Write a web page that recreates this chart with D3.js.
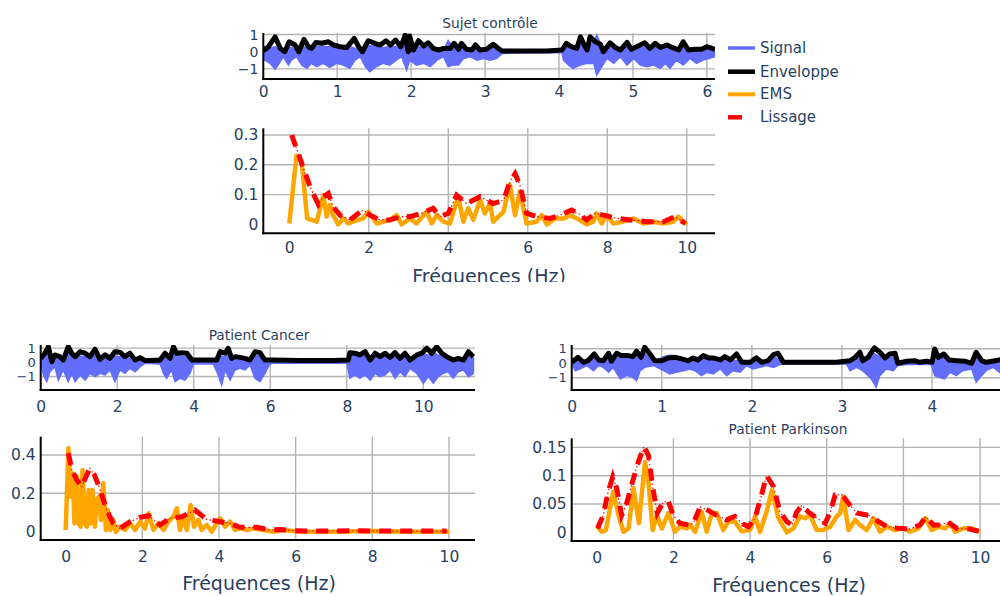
<!DOCTYPE html>
<html><head><meta charset="utf-8">
<script src="https://cdn.jsdelivr.net/npm/d3@7"></script>
<style>body{margin:0;background:#fff}svg{display:block;font-family:"DejaVu Sans",Verdana,sans-serif}</style>
</head><body><svg id="c" width="1000" height="596"></svg>
<script>
// ---------------- DATA ----------------
const seriesNames = ["Signal", "Enveloppe", "EMS", "Lissage"];
const panelTitles = ["Sujet contrôle", "Patient Cancer", "Patient Parkinson"];
const freqTitle = "Fréquences (Hz)";

// Sujet contrôle : signal band [t, low, high], envelope [t, v]
const ctrlSignal = [[0,0,0.1],[0.02,-0.49,0.3],[0.09,-0.68,0.2],[0.16,-1.03,0.3],[0.2,-0.78,0.15],[0.27,-0.29,0.05],[0.34,-0.78,0.3],[0.38,-0.49,0.25],[0.45,-0.29,0.1],[0.52,-0.78,0.3],[0.59,-0.97,0.25],[0.65,-0.68,0.15],[0.72,-0.87,0.3],[0.81,-0.68,0.3],[0.9,-0.91,0.3],[0.99,-0.68,0.2],[1.08,-0.78,0.2],[1.17,-0.97,0.3],[1.24,-0.49,0.2],[1.31,-0.29,0.05],[1.38,-0.87,0.3],[1.44,-1.17,0.35],[1.53,-0.87,0.3],[1.62,-0.68,0.25],[1.71,-0.78,0.3],[1.8,-0.49,0.3],[1.87,-0.29,0.2],[1.94,-1.07,0.5],[1.98,-0.49,0.4],[2.07,-0.78,0.3],[2.17,-0.68,0.25],[2.26,-0.87,0.25],[2.35,-0.49,0.1],[2.44,-0.29,0.1],[2.5,-0.87,0.65],[2.57,-0.78,0.2],[2.64,-0.78,0.1],[2.71,-0.39,0.25],[2.8,-0.29,0.05],[2.89,-0.49,0.2],[2.98,-0.39,0.1],[3.07,-0.49,0.2],[3.16,-0.39,0.25],[3.23,-0.1,0.03],[3.61,-0.06,0.03],[4.04,-0.06,0.03],[4.06,-0.49,0.2],[4.13,-0.78,0.3],[4.19,-0.97,0.2],[4.29,-0.78,0.4],[4.38,-0.68,0.2],[4.47,-0.68,0.6],[4.51,-1.36,0.97],[4.58,-0.87,0.3],[4.65,-0.39,0.2],[4.74,-0.68,0.3],[4.83,-0.29,0.05],[4.92,-0.78,0.3],[5.01,-0.39,0.1],[5.1,-0.78,0.25],[5.19,-0.87,0.3],[5.28,-0.78,0.3],[5.37,-0.97,0.2],[5.44,-0.68,0.35],[5.5,-0.97,0.2],[5.59,-0.49,0.1],[5.68,-0.78,0.35],[5.77,-0.39,0.05],[5.86,-0.68,0.1],[5.95,-0.49,0.1],[6.04,-0.39,0.2],[6.11,-0.29,0.1]];
const ctrlEnvelope = [[0,0.06],[0.07,0.29],[0.16,0.87],[0.23,0.19],[0.29,0.0],[0.35,0.58],[0.43,0.39],[0.48,0.0],[0.55,0.72],[0.61,0.29],[0.65,0.19],[0.71,0.54],[0.79,0.49],[0.88,0.58],[0.95,0.39],[1.04,0.29],[1.13,0.25],[1.23,0.78],[1.29,0.29],[1.34,0.0],[1.42,0.64],[1.51,0.49],[1.58,0.39],[1.66,0.64],[1.72,0.39],[1.79,0.68],[1.86,0.29],[1.92,0.97],[1.96,0.0],[1.98,0.91],[2.03,0.1],[2.1,0.64],[2.17,0.33],[2.23,0.52],[2.3,0.19],[2.37,0.1],[2.44,0.19],[2.53,0.19],[2.58,0.49],[2.64,0.14],[2.68,0.49],[2.75,0.14],[2.82,0.1],[2.87,0.39],[2.93,0.1],[3.02,0.14],[3.11,0.43],[3.18,0.19],[3.23,0.04],[3.38,0.04],[3.61,0.04],[3.83,0.04],[4.04,0.1],[4.1,0.49],[4.17,0.29],[4.24,0.19],[4.29,0.87],[4.34,0.39],[4.38,0.1],[4.42,0.87],[4.49,0.58],[4.56,0.43],[4.6,0.0],[4.69,0.52],[4.76,0.25],[4.83,0.1],[4.92,0.54],[4.98,0.14],[5.07,0.33],[5.16,0.52],[5.23,0.19],[5.3,0.49],[5.37,0.25],[5.46,0.39],[5.53,0.25],[5.62,0.1],[5.68,0.58],[5.75,0.1],[5.84,0.14],[5.93,0.14],[6.0,0.29],[6.11,0.14]];
const ctrlEMS = [[0,0.003],[0.18,0.23],[0.31,0.21],[0.45,0.02],[0.69,0.009],[0.86,0.098],[0.94,0.026],[1.02,0.065],[1.1,0.031],[1.23,0.0],[1.36,0.02],[1.48,0.003],[1.6,0.009],[1.86,0.02],[1.99,0.043],[2.2,0.003],[2.53,0.015],[2.7,0.031],[2.83,0.0],[3.04,0.02],[3.2,0.003],[3.46,0.043],[3.58,0.003],[3.71,0.031],[3.88,0.009],[4.04,0.003],[4.25,0.093],[4.38,0.009],[4.5,0.054],[4.63,0.015],[4.8,0.082],[4.92,0.037],[5.05,0.07],[5.13,0.009],[5.26,0.026],[5.39,0.043],[5.55,0.133],[5.68,0.031],[5.8,0.11],[5.97,0.003],[6.22,0.009],[6.35,0.031],[6.48,0.0],[6.69,0.02],[6.9,0.02],[7.06,0.031],[7.23,0.02],[7.48,0.0],[7.65,0.009],[7.73,0.037],[7.86,0.003],[7.99,0.031],[8.15,0.003],[8.4,0.009],[8.66,0.02],[8.91,0.003],[9.16,0.009],[9.41,0.003],[9.66,0.009],[9.79,0.026],[10,0.0]];
const ctrlSmooth = [[0.06,0.3],[0.18,0.255],[0.35,0.19],[0.52,0.127],[0.73,0.067],[0.86,0.093],[0.98,0.104],[1.1,0.06],[1.28,0.03],[1.53,0.015],[1.74,0.037],[1.86,0.048],[2.03,0.031],[2.28,0.015],[2.53,0.015],[2.79,0.026],[3.04,0.026],[3.33,0.037],[3.62,0.054],[3.79,0.026],[4.0,0.037],[4.21,0.098],[4.46,0.07],[4.8,0.093],[5.13,0.07],[5.39,0.081],[5.55,0.143],[5.68,0.17],[5.8,0.132],[5.97,0.037],[6.22,0.026],[6.56,0.02],[6.81,0.031],[7.1,0.048],[7.27,0.037],[7.48,0.015],[7.69,0.037],[7.9,0.031],[8.24,0.02],[8.57,0.015],[9.0,0.009],[9.41,0.009],[9.7,0.026],[9.96,0.003]];

// Patient Cancer
const cancerSignal = [[0,-0.07,0.1],[0.07,-0.89,0.4],[0.16,-1.36,0.6],[0.24,-0.66,0.25],[0.37,-0.31,0.5],[0.46,-1.25,0.4],[0.59,-0.54,0.15],[0.72,-1.36,0.7],[0.81,-0.78,0.45],[0.9,-1.36,0.35],[1.03,-0.89,0.45],[1.16,-1.25,0.4],[1.29,-0.78,0.3],[1.42,-1.01,0.5],[1.55,-0.78,0.2],[1.68,-0.89,0.35],[1.81,-0.54,0.2],[1.94,-1.36,0.45],[2.07,-0.54,0.4],[2.2,-0.78,0.25],[2.33,-0.42,0.3],[2.47,-0.66,0.1],[2.6,-0.31,0.15],[2.73,-0.07,0.05],[3.12,-0.12,0.08],[3.21,-0.78,0.3],[3.29,-1.13,0.4],[3.42,-0.54,0.25],[3.51,-1.36,0.7],[3.64,-1.13,0.45],[3.77,-1.25,0.4],[3.9,-0.78,0.2],[3.99,-0.12,0.05],[4.51,-0.12,0.05],[4.64,-0.89,0.5],[4.73,-1.6,0.45],[4.82,-0.54,0.4],[4.95,-1.25,0.6],[5.08,-0.54,0.25],[5.21,-0.42,0.2],[5.34,-0.54,0.15],[5.47,-0.19,0.08],[5.6,-1.13,0.5],[5.73,-1.36,0.45],[5.86,-0.78,0.15],[5.99,-0.12,0.05],[6.1,-0.05,0.03],[8.0,-0.07,0.05],[8.08,-1.13,0.5],[8.21,-0.89,0.45],[8.34,-1.13,0.35],[8.48,-0.89,0.5],[8.61,-1.25,0.15],[8.74,-0.78,0.45],[8.87,-1.01,0.3],[9.0,-0.89,0.45],[9.13,-0.54,0.25],[9.26,-1.13,0.45],[9.39,-0.66,0.2],[9.52,-1.01,0.45],[9.65,-0.42,0.15],[9.83,-0.78,0.35],[10.0,-1.48,0.6],[10.13,-1.01,0.5],[10.26,-1.48,0.7],[10.39,-1.01,0.5],[10.52,-0.78,0.4],[10.65,-0.66,0.3],[10.78,-1.13,0.15],[10.91,-0.66,0.2],[11.05,-0.54,0.15],[11.18,-1.01,0.45],[11.31,-0.78,0.3]];
const cancerEnvelope = [[0,0.28],[0.11,0.64],[0.2,1.1],[0.29,0.05],[0.37,0.52],[0.5,0.4],[0.59,0.16],[0.72,1.1],[0.81,0.64],[0.9,0.4],[1.03,0.75],[1.16,0.64],[1.29,0.4],[1.42,0.92],[1.55,0.21],[1.68,0.52],[1.81,0.28],[1.94,0.75],[2.07,0.71],[2.2,0.4],[2.33,0.64],[2.47,0.16],[2.6,0.33],[2.73,0.12],[2.86,0.12],[3.12,0.16],[3.25,0.64],[3.38,0.28],[3.47,1.1],[3.55,0.64],[3.68,0.68],[3.82,0.64],[3.95,0.16],[4.16,0.16],[4.6,0.16],[4.69,0.75],[4.82,0.64],[4.9,0.99],[4.99,0.28],[5.08,0.4],[5.21,0.35],[5.34,0.28],[5.47,0.16],[5.6,0.75],[5.73,0.68],[5.86,0.16],[6.08,0.16],[6.78,0.12],[7.65,0.12],[8.04,0.16],[8.08,0.68],[8.21,0.64],[8.34,0.52],[8.48,0.75],[8.61,0.16],[8.74,0.64],[8.87,0.4],[9.0,0.64],[9.13,0.35],[9.26,0.68],[9.39,0.28],[9.52,0.64],[9.65,0.16],[9.83,0.52],[9.96,0.64],[10.09,0.99],[10.22,0.64],[10.35,1.1],[10.48,0.64],[10.61,0.4],[10.78,0.16],[10.91,0.28],[11.05,0.16],[11.18,0.75],[11.31,0.4]];
const cancerEMS = [[0,0.009],[0.07,0.435],[0.13,0.183],[0.18,0.304],[0.23,0.043],[0.29,0.287],[0.34,0.043],[0.39,0.026],[0.44,0.322],[0.5,0.043],[0.55,0.026],[0.6,0.217],[0.65,0.043],[0.7,0.217],[0.76,0.026],[0.81,0.165],[0.87,0.183],[0.92,0.061],[0.98,0.252],[1.05,0.009],[1.1,0.113],[1.17,0.009],[1.24,0.061],[1.31,0.0],[1.42,0.026],[1.55,0.009],[1.68,0.043],[1.81,0.009],[1.94,0.052],[2.07,0.017],[2.16,0.096],[2.29,0.009],[2.42,0.043],[2.55,0.009],[2.68,0.052],[2.81,0.078],[2.9,0.122],[2.98,0.009],[3.07,0.078],[3.16,0.009],[3.26,0.139],[3.35,0.026],[3.46,0.061],[3.55,0.009],[3.68,0.035],[3.81,0.0],[3.94,0.043],[4.03,0.07],[4.16,0.026],[4.29,0.052],[4.42,0.009],[4.55,0.017],[4.72,0.009],[4.9,0.017],[5.16,0.009],[5.42,0.0],[5.68,0.009],[6.11,0.0],[6.98,0.0],[8.0,0.003],[9.0,0.0],[10,0.0]];
const cancerSmooth = [[0.07,0.409],[0.16,0.322],[0.29,0.27],[0.42,0.235],[0.53,0.287],[0.63,0.33],[0.75,0.296],[0.9,0.217],[1.07,0.113],[1.24,0.043],[1.42,0.017],[1.68,0.052],[1.94,0.075],[2.16,0.083],[2.46,0.035],[2.72,0.07],[3.03,0.078],[3.37,0.113],[3.68,0.064],[4.03,0.052],[4.29,0.043],[4.55,0.023],[4.98,0.023],[5.33,0.009],[5.59,0.012],[5.94,0.005],[6.55,0.003],[7.42,0.005],[8.72,0.003],[9.94,0.003]];

// Patient Parkinson
const parkSignal = [[0,-0.05,0.05],[0.04,-0.51,0.3],[0.09,-0.39,0.3],[0.17,-0.16,0.1],[0.24,-0.51,0.35],[0.3,-0.16,0.15],[0.35,-0.28,0.1],[0.41,-0.62,0.4],[0.46,-0.28,0.2],[0.54,-1.08,0.45],[0.61,-0.85,0.35],[0.68,-0.97,0.3],[0.72,-1.2,0.55],[0.76,-0.51,0.25],[0.81,-0.28,0.7],[0.91,-0.16,0.1],[1.02,-0.51,0.45],[1.09,-0.74,0.55],[1.16,-0.62,0.5],[1.24,-0.51,0.35],[1.31,-0.39,0.15],[1.37,-0.51,0.25],[1.44,-0.85,0.4],[1.5,-0.62,0.3],[1.57,-0.74,0.3],[1.65,-0.39,0.15],[1.72,-0.85,0.35],[1.79,-0.51,0.2],[1.87,-0.62,0.2],[1.94,-0.16,0.03],[2.01,-0.39,0.25],[2.09,-0.28,0.05],[2.16,-0.16,0.1],[2.24,-0.28,0.45],[2.31,-0.09,0.25],[2.38,-0.05,0.03],[3.05,-0.05,0.03],[3.09,-0.51,0.3],[3.16,-0.28,0.3],[3.23,-0.51,0.45],[3.31,-0.97,0.35],[3.35,-1.31,0.7],[3.38,-1.66,0.6],[3.42,-0.85,0.45],[3.49,-0.39,0.3],[3.57,-0.51,0.45],[3.62,-0.16,0.03],[3.72,-0.09,0.08],[3.99,-0.09,0.03],[4.03,-0.85,0.7],[4.08,-0.97,0.35],[4.14,-1.08,0.45],[4.2,-0.62,0.15],[4.27,-0.85,0.15],[4.34,-0.51,0.1],[4.44,-0.39,0.05],[4.49,-1.31,0.55],[4.55,-0.85,0.1],[4.6,-0.51,0.05],[4.68,-0.28,0.1],[4.75,-0.62,0.15],[4.82,-0.4,0.1]];
const parkEnvelope = [[0,0.07],[0.07,0.41],[0.13,0.07],[0.18,0.18],[0.25,0.64],[0.3,0.23],[0.35,0.18],[0.41,0.69],[0.44,0.14],[0.5,0.69],[0.55,0.53],[0.63,0.53],[0.68,0.46],[0.72,0.83],[0.77,0.41],[0.81,1.1],[0.87,0.64],[0.92,0.18],[1.0,0.18],[1.07,0.37],[1.15,0.41],[1.22,0.3],[1.29,0.18],[1.35,0.37],[1.4,0.23],[1.46,0.53],[1.52,0.37],[1.57,0.37],[1.65,0.23],[1.7,0.46],[1.76,0.23],[1.83,0.64],[1.89,0.07],[1.98,0.07],[2.05,0.37],[2.11,0.07],[2.18,0.18],[2.24,0.6],[2.29,0.69],[2.35,0.07],[2.57,0.07],[2.94,0.07],[3.09,0.18],[3.14,0.37],[3.2,0.76],[3.23,0.18],[3.29,0.41],[3.36,1.06],[3.42,0.76],[3.48,0.37],[3.53,0.64],[3.59,0.69],[3.62,0.0],[3.72,0.14],[3.81,0.18],[3.86,0.07],[3.94,0.14],[4.0,0.07],[4.03,0.99],[4.07,0.41],[4.13,0.64],[4.19,0.23],[4.28,0.18],[4.37,0.14],[4.44,0.0],[4.49,0.76],[4.55,0.18],[4.6,0.07],[4.7,0.18],[4.76,0.25],[4.82,0.2]];
const parkEMS = [[0.02,0.01],[0.13,0.001],[0.24,0.004],[0.43,0.072],[0.57,0.03],[0.7,0.001],[0.83,0.007],[0.96,0.078],[1.1,0.016],[1.26,0.124],[1.35,0.089],[1.46,0.004],[1.57,0.03],[1.7,0.007],[1.87,0.034],[2.04,0.001],[2.17,0.01],[2.35,0.007],[2.43,0.013],[2.57,0.001],[2.74,0.036],[2.87,0.001],[3.0,0.034],[3.13,0.034],[3.3,0.004],[3.43,0.019],[3.6,0.019],[3.78,0.002],[4.0,0.004],[4.13,0.028],[4.26,0.001],[4.43,0.036],[4.57,0.074],[4.74,0.025],[4.96,0.0],[5.13,0.007],[5.3,0.028],[5.43,0.025],[5.57,0.03],[5.74,0.004],[5.91,0.004],[6.09,0.01],[6.26,0.028],[6.35,0.034],[6.43,0.063],[6.57,0.004],[6.74,0.022],[6.87,0.013],[7.04,0.004],[7.22,0.025],[7.39,0.001],[7.57,0.01],[7.78,0.004],[8.0,0.007],[8.17,0.001],[8.39,0.007],[8.57,0.025],[8.74,0.004],[8.91,0.01],[9.09,0.007],[9.22,0.016],[9.35,0.001],[9.57,0.007],[9.78,0.007],[10,0.001]];
const parkSmooth = [[0.02,0.007],[0.17,0.03],[0.3,0.072],[0.42,0.098],[0.52,0.078],[0.65,0.03],[0.77,0.048],[0.91,0.084],[1.09,0.125],[1.23,0.151],[1.35,0.136],[1.46,0.08],[1.58,0.034],[1.74,0.054],[1.87,0.054],[2.0,0.03],[2.17,0.016],[2.39,0.013],[2.52,0.016],[2.7,0.045],[2.87,0.04],[3.13,0.03],[3.39,0.022],[3.6,0.028],[3.78,0.016],[3.96,0.01],[4.13,0.025],[4.3,0.066],[4.43,0.1],[4.61,0.081],[4.78,0.036],[4.96,0.019],[5.09,0.013],[5.22,0.036],[5.35,0.048],[5.52,0.036],[5.74,0.025],[5.96,0.016],[6.09,0.036],[6.22,0.066],[6.39,0.067],[6.57,0.051],[6.78,0.034],[7.09,0.03],[7.35,0.019],[7.57,0.01],[7.87,0.007],[8.17,0.006],[8.43,0.013],[8.59,0.028],[8.78,0.013],[8.96,0.013],[9.17,0.018],[9.39,0.007],[9.7,0.006],[9.96,0.002]];

// tick values
const sigYTicks = [-1, 0, 1];
const ctrlSigXTicks = [0, 1, 2, 3, 4, 5, 6];
const cancerSigXTicks = [0, 2, 4, 6, 8, 10];
const parkSigXTicks = [0, 1, 2, 3, 4];
const freqXTicks = [0, 2, 4, 6, 8, 10];
const ctrlFreqYTicks = [0, 0.1, 0.2, 0.3];
const cancerFreqYTicks = [0, 0.2, 0.4];
const parkFreqYTicks = [0, 0.05, 0.1, 0.15];

// ---------------- DRAW ----------------
const COL = {signal: "#636efa", env: "#000000", ems: "#ffa500", smooth: "#ff0000", text: "#2a3f5f", grid: "#b4b4b4"};
const svg = d3.select("#c");
const defs = svg.append("defs");
let clipId = 0;
const fmt = d3.format("~g");

function panel(root, box, xDom, yDom, xTicks, yTicks, xPad, yFont) {
  const x = d3.scaleLinear().domain(xDom).range([box.l, box.r]);
  const y = d3.scaleLinear().domain(yDom).range([box.b, box.t]);
  const g = root.append("g");
  g.selectAll(".gx").data(xTicks.filter(d => d !== 0)).join("line")
    .attr("x1", d => x(d)).attr("x2", d => x(d)).attr("y1", box.t).attr("y2", box.b)
    .attr("stroke", COL.grid).attr("stroke-width", 1.4);
  g.selectAll(".gy").data(yTicks.filter(d => d !== 0)).join("line")
    .attr("y1", d => y(d)).attr("y2", d => y(d)).attr("x1", box.l).attr("x2", box.r)
    .attr("stroke", COL.grid).attr("stroke-width", 1.4);
  const id = "clip" + (clipId++);
  defs.append("clipPath").attr("id", id).append("rect")
    .attr("x", box.l).attr("y", box.t).attr("width", box.r - box.l).attr("height", box.b - box.t);
  const plot = g.append("g").attr("clip-path", `url(#${id})`);
  const ax = g.append("g").attr("transform", `translate(0,${box.b})`)
    .call(d3.axisBottom(x).tickValues(xTicks).tickSize(0).tickPadding(xPad).tickFormat(fmt));
  const ay = g.append("g").attr("transform", `translate(${box.l},0)`)
    .call(d3.axisLeft(y).tickValues(yTicks).tickSize(0).tickPadding(5).tickFormat(fmt));
  [[ax, 15.5], [ay, yFont]].forEach(([a, fs]) => {
    a.select(".domain").remove();
    a.selectAll("text").attr("fill", COL.text).style("font-size", fs + "px").style("font-family", '"DejaVu Sans",Verdana,sans-serif');
  });
  g.append("line").attr("x1", box.l).attr("x2", box.l).attr("y1", box.t).attr("y2", box.b + 1)
    .attr("stroke", "#000").attr("stroke-width", 2);
  g.append("line").attr("x1", box.l - 1).attr("x2", box.r).attr("y1", box.b).attr("y2", box.b)
    .attr("stroke", "#000").attr("stroke-width", 2);
  return {x, y, plot};
}

function drawSignal(p, band, env) {
  p.plot.append("path").datum(band)
    .attr("d", d3.area().x(d => p.x(d[0])).y0(d => p.y(d[1])).y1(d => p.y(d[2])))
    .attr("fill", COL.signal).attr("stroke", COL.signal).attr("stroke-width", 1.5);
  p.plot.append("path").datum(env)
    .attr("d", d3.line().x(d => p.x(d[0])).y(d => p.y(d[1])))
    .attr("fill", "none").attr("stroke", COL.env).attr("stroke-width", 5).attr("stroke-linejoin", "round");
}
function drawSpectrum(p, ems, smooth) {
  const line = d3.line().x(d => p.x(d[0])).y(d => p.y(d[1]));
  p.plot.append("path").datum(ems).attr("d", line)
    .attr("fill", "none").attr("stroke", COL.ems).attr("stroke-width", 4.5).attr("stroke-linejoin", "round");
  p.plot.append("path").datum(smooth).attr("d", line)
    .attr("fill", "none").attr("stroke", COL.smooth).attr("stroke-width", 1.2).attr("stroke-dasharray", "1.5,2.5");
  p.plot.append("path").datum(smooth).attr("d", line)
    .attr("fill", "none").attr("stroke", COL.smooth).attr("stroke-width", 5).attr("stroke-dasharray", "12,9");
}
function title(root, txt, cx, cy, size) {
  root.append("text").attr("x", cx).attr("y", cy).attr("text-anchor", "middle")
    .attr("dominant-baseline", "central").attr("fill", COL.text).style("font-size", size + "px").text(txt);
}

// --- top figure (clipped at the bottom like the reference) ---
defs.append("clipPath").attr("id", "topclip").append("rect").attr("x", 0).attr("y", 0).attr("width", 1000).attr("height", 282);
const topG = svg.append("g").attr("clip-path", "url(#topclip)");
const p1 = panel(topG, {l: 263.3, r: 715, t: 33, b: 79}, [0, 6.11], [-1.59, 1.09], ctrlSigXTicks, sigYTicks, 7, 14);
drawSignal(p1, ctrlSignal, ctrlEnvelope);
const p2 = panel(topG, {l: 263.3, r: 715, t: 128.3, b: 233.3}, [-0.654, 10.71], [-0.030, 0.3225], freqXTicks, ctrlFreqYTicks, 9, 15.5);
drawSpectrum(p2, ctrlEMS, ctrlSmooth);
title(topG, panelTitles[0], 490, 23.3, 13.75);
title(topG, freqTitle, 489, 276, 19);

// legend
const legY = [48, 71.7, 94.3, 117.3];
const leg = svg.append("g");
seriesNames.forEach((n, i) => {
  const ln = leg.append("line").attr("x1", 728).attr("x2", 755).attr("y1", legY[i]).attr("y2", legY[i]);
  if (i === 0) ln.attr("stroke", COL.signal).attr("stroke-width", 3.5);
  if (i === 1) ln.attr("stroke", COL.env).attr("stroke-width", 4.5);
  if (i === 2) ln.attr("stroke", COL.ems).attr("stroke-width", 4);
  if (i === 3) ln.attr("stroke", COL.smooth).attr("stroke-width", 4.5).attr("stroke-dasharray", "14,20");
  leg.append("text").attr("x", 760).attr("y", legY[i]).attr("dominant-baseline", "central")
    .attr("fill", COL.text).style("font-size", "15px").text(n);
});

// --- bottom left: Patient Cancer ---
const blG = svg.append("g");
const p3 = panel(blG, {l: 40.7, r: 475, t: 345, b: 390}, [0, 11.35], [-1.95, 1.22], cancerSigXTicks, sigYTicks, 11, 13);
drawSignal(p3, cancerSignal, cancerEnvelope);
const p4 = panel(blG, {l: 40.7, r: 475, t: 436.7, b: 540}, [-0.652, 10.68], [-0.0433, 0.495], freqXTicks, cancerFreqYTicks, 11, 15.5);
drawSpectrum(p4, cancerEMS, cancerSmooth);
title(blG, panelTitles[1], 259, 335, 13.75);
title(blG, freqTitle, 259, 583, 19);

// --- bottom right: Patient Parkinson ---
const brG = svg.append("g");
const p5 = panel(brG, {l: 571.7, r: 1005, t: 345, b: 390}, [0, 4.81], [-1.84, 1.26], parkSigXTicks, sigYTicks, 11, 13);
drawSignal(p5, parkSignal, parkEnvelope);
const p6 = panel(brG, {l: 571.7, r: 1005, t: 438.3, b: 541}, [-0.652, 10.65], [-0.0153, 0.166], freqXTicks, parkFreqYTicks, 11, 15.5);
drawSpectrum(p6, parkEMS, parkSmooth);
title(brG, panelTitles[2], 788, 429, 13.75);
title(brG, freqTitle, 789, 585, 19);
</script>
</body></html>
